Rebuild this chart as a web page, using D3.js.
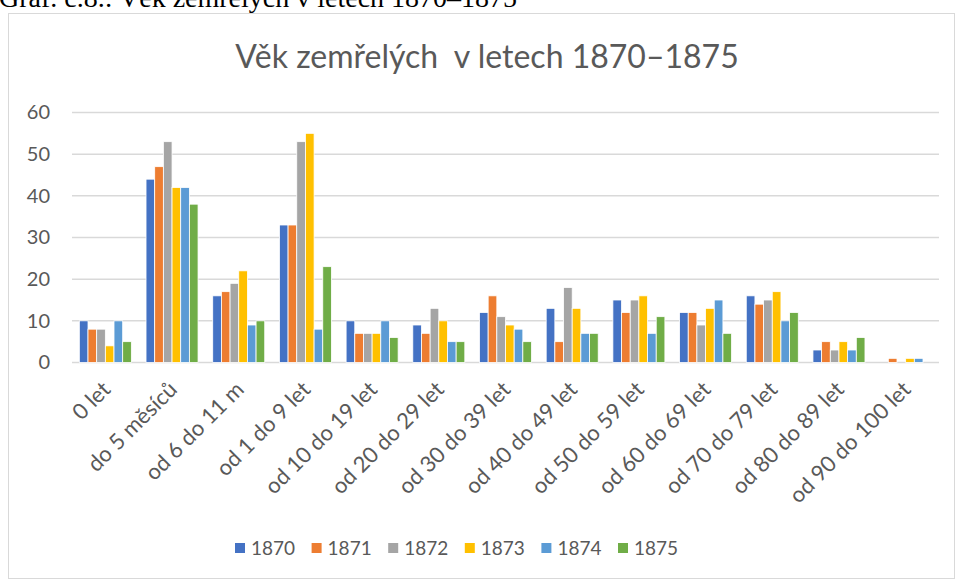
<!DOCTYPE html>
<html>
<head>
<meta charset="utf-8">
<script src="https://cdn.jsdelivr.net/npm/d3@7"></script>
<style>
body { margin: 0; background: #fff; }
svg text { font-family: Lato, "Open Sans", sans-serif; }
</style>
</head>
<body>
<div id="chart"></div>
<script>
// age groups and the six years of deaths
var categories = ["0 let", "do 5 měsíců", "od 6 do 11 m", "od 1 do 9 let", "od 10 do 19 let",
	"od 20 do 29 let", "od 30 do 39 let", "od 40 do 49 let", "od 50 do 59 let",
	"od 60 do 69 let", "od 70 do 79 let", "od 80 do 89 let", "od 90 do 100 let"];
var years = ["1870", "1871", "1872", "1873", "1874", "1875"];
var v1870 = [10, 44, 16, 33, 10, 9, 12, 13, 15, 12, 16, 3, 0];
var v1871 = [8, 47, 17, 33, 7, 7, 16, 5, 12, 12, 14, 5, 1];
var v1872 = [8, 53, 19, 53, 7, 13, 11, 18, 15, 9, 15, 3, 0];
var v1873 = [4, 42, 22, 55, 7, 10, 9, 13, 16, 13, 17, 5, 1];
var v1874 = [10, 42, 9, 8, 10, 5, 8, 7, 7, 15, 10, 3, 1];
var v1875 = [5, 38, 10, 23, 6, 5, 5, 7, 11, 7, 12, 6, 0];
var yTicks = [0, 10, 20, 30, 40, 50, 60];
var colors = ["#4472C4", "#ED7D31", "#A5A5A5", "#FFC000", "#5B9BD5", "#70AD47"];

var series = [v1870, v1871, v1872, v1873, v1874, v1875];

var width = 957,
	height = 581,
	plotLeft = 72,
	plotRight = 939,
	plotTop = 112.5,
	plotBottom = 362.5,
	TEXT_COLOR = "#595959",
	GRID_COLOR = "#d9d9d9";

var svg = d3.select("#chart").append("svg")
	.attr("width", width)
	.attr("height", height);

// caption of the figure, cut off by the page top
svg.append("text")
	.attr("x", -1)
	.attr("y", 7)
	.text("Graf. č.8.: Věk zemřelých v letech 1870–1875")
	.style("font-family", "'Liberation Serif', 'Times New Roman', serif")
	.style("font-size", "28px")
	.style("fill", "#000");

// chart frame
svg.append("rect")
	.attr("x", 8.5)
	.attr("y", 13.5)
	.attr("width", 946)
	.attr("height", 565)
	.style("fill", "#fff")
	.style("stroke", GRID_COLOR)
	.style("stroke-width", 1);

svg.append("text")
	.attr("x", 487)
	.attr("y", 68)
	.attr("xml:space", "preserve")
	.text("Věk zemřelých  v letech 1870–1875")
	.style("font-size", "32px")
	.style("fill", TEXT_COLOR)
	.style("text-anchor", "middle");

var y = d3.scaleLinear().domain([0, 60]).range([plotBottom, plotTop]);

var x0 = d3.scaleBand()
	.domain(categories)
	.range([plotLeft, plotRight])
	.paddingInner(0.22)
	.paddingOuter(0.11);

var x1 = d3.scaleBand()
	.domain(years)
	.range([0, x0.bandwidth()]);

// gridlines
svg.append("g")
	.selectAll("line")
	.data(yTicks)
	.enter()
	.append("line")
	.attr("x1", plotLeft)
	.attr("x2", plotRight)
	.attr("y1", function(d) { return y(d); })
	.attr("y2", function(d) { return y(d); })
	.style("stroke", GRID_COLOR)
	.style("stroke-width", 1.5);

// y axis labels
var yAxis = svg.append("g")
	.attr("transform", "translate(50,0)")
	.call(d3.axisLeft(y).tickValues(yTicks).tickSize(0).tickPadding(0));
yAxis.select(".domain").remove();
yAxis.selectAll("text")
	.style("font-size", "20px")
	.style("font-family", "Lato, sans-serif")
	.style("fill", TEXT_COLOR);

// bars
var groups = svg.append("g")
	.selectAll("g")
	.data(categories)
	.enter()
	.append("g")
	.attr("transform", function(d) { return "translate(" + x0(d) + ",0)"; });

groups.selectAll("rect")
	.data(function(d, i) {
		return years.map(function(yr, j) { return { year: yr, value: series[j][i], k: j }; });
	})
	.enter()
	.append("rect")
	.attr("x", function(d) { return x1(d.year); })
	.attr("width", x1.bandwidth())
	.attr("y", function(d) { return y(d.value); })
	.attr("height", function(d) { return y(0) - y(d.value); })
	.style("fill", function(d) { return colors[d.k]; })
	.style("stroke", "#fff")
	.style("stroke-width", 0.8)
	.style("display", function(d) { return d.value > 0 ? null : "none"; });

// x axis labels, rotated
var xAxis = svg.append("g")
	.attr("transform", "translate(0," + plotBottom + ")")
	.call(d3.axisBottom(x0).tickSize(0).tickPadding(0));
xAxis.select(".domain").remove();
xAxis.selectAll("text")
	.attr("y", 0)
	.attr("transform", "translate(1,23) rotate(-45)")
	.attr("dy", "0.35em")
	.style("text-anchor", "end")
	.style("font-size", "22px")
	.style("font-family", "Lato, sans-serif")
	.style("fill", TEXT_COLOR);

// legend
var legend = svg.append("g")
	.selectAll("g")
	.data(years)
	.enter()
	.append("g")
	.attr("transform", function(d, i) { return "translate(" + (235 + i * 76.6) + ",543)"; });

legend.append("rect")
	.attr("width", 10)
	.attr("height", 10)
	.style("fill", function(d, i) { return colors[i]; });

legend.append("text")
	.attr("x", 16)
	.attr("y", 12)
	.text(function(d) { return d; })
	.style("font-size", "19px")
	.style("fill", TEXT_COLOR);
</script>
</body>
</html>
